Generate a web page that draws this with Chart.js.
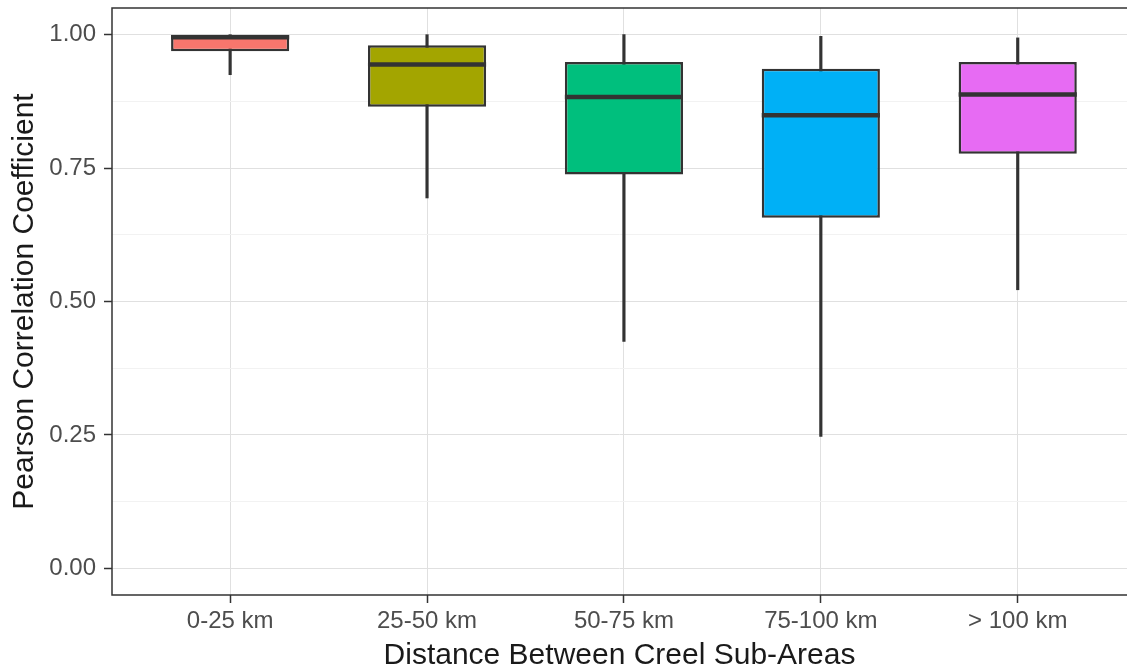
<!DOCTYPE html>
<html>
<head>
<meta charset="utf-8">
<script src="https://cdn.jsdelivr.net/npm/chart.js@4/dist/chart.umd.min.js"></script>
<style>
   html, body { margin: 0; padding: 0; background: #ffffff; }
   #wrap { width: 1127px; height: 669px; }
</style>
</head>
<body>
<div id="wrap"><canvas id="graph" width="1127" height="669"></canvas></div>
<script>
const categories = ["0-25 km", "25-50 km", "50-75 km", "75-100 km", "> 100 km"];
const lowerWhisker = [0.925, 0.694, 0.425, 0.247, 0.522];
const lowerQuartile = [0.969, 0.865, 0.738, 0.657, 0.777];
const medians = [0.995, 0.944, 0.883, 0.849, 0.888];
const upperQuartile = [1.000, 0.980, 0.949, 0.936, 0.949];
const upperWhisker = [1.000, 1.000, 1.000, 0.997, 0.994];
const fillColors = ["#F8766D", "#A3A500", "#00BF7D", "#00B0F6", "#E76BF3"];
const yTicks = [0, 0.125, 0.25, 0.375, 0.5, 0.625, 0.75, 0.875, 1];

const fontFamily = "'Liberation Sans', Arial, sans-serif";
const isMajor = v => Math.abs(v * 4 - Math.round(v * 4)) < 1e-9;

// panel border (left, top, bottom) like ggplot theme_bw
const framePlugin =
{
   id: "frame",
   afterDraw(chart)
   {
      const { ctx, chartArea } = chart;
      ctx.save();
      ctx.strokeStyle = "#333333";
      ctx.lineWidth = 1.5;
      ctx.beginPath();
      ctx.moveTo(chart.width + 2, chartArea.top);
      ctx.lineTo(chartArea.left, chartArea.top);
      ctx.lineTo(chartArea.left, chartArea.bottom);
      ctx.lineTo(chart.width + 2, chartArea.bottom);
      ctx.stroke();
      ctx.restore();
   }
};

const canvasCtx = document.getElementById("graph").getContext("2d");

new Chart(canvasCtx,
{
   type: "bar",
   data:
   {
      datasets:
      [
         {
            type: "line",
            label: "median",
            data: medians.map((m, i) => ({ x: i, y: m })),
            showLine: false,
            pointStyle: "line",
            pointRadius: c =>
            {
               const xs = c.chart.scales.x;
               return Math.abs(xs.getPixelForValue(0.3) - xs.getPixelForValue(0));
            },
            pointHoverRadius: 0,
            pointBorderWidth: 4.5,
            pointBorderColor: "#333333",
            order: 0
         },
         {
            label: "box",
            data: categories.map((c, i) => ({ x: i, y: [lowerQuartile[i], upperQuartile[i]] })),
            backgroundColor: fillColors,
            borderColor: "#333333",
            borderWidth: 2.5,
            borderSkipped: false,
            barPercentage: 0.6,
            categoryPercentage: 1,
            grouped: false,
            order: 1
         },
         {
            label: "whisker",
            data: categories.map((c, i) => ({ x: i, y: [lowerWhisker[i], upperWhisker[i]] })),
            backgroundColor: "#333333",
            barThickness: 2.5,
            grouped: false,
            order: 2
         }
      ]
   },
   options:
   {
      animation: false,
      responsive: false,
      events: [],
      layout:
      {
         padding: { top: 8, right: 0, bottom: 0, left: 0 }
      },
      plugins:
      {
         legend: { display: false },
         tooltip: { enabled: false }
      },
      scales:
      {
         x:
         {
            type: "linear",
            min: -0.6,
            max: 4.555,
            offset: false,
            afterBuildTicks: axis => { axis.ticks = categories.map((c, i) => ({ value: i })); },
            afterFit: axis =>
            {
               axis.height = 74;
               axis.paddingLeft = 0;
               axis.paddingRight = 0;
            },
            border: { display: false },
            grid:
            {
               offset: false,
               color: "#E0E0E0",
               lineWidth: 1,
               tickColor: "#333333",
               tickLength: 8,
               tickWidth: 1.5
            },
            ticks:
            {
               autoSkip: false,
               maxRotation: 0,
               padding: 4,
               color: "#4D4D4D",
               font: { family: fontFamily, size: 24 },
               callback: value => categories[value]
            },
            title:
            {
               display: true,
               text: "Distance Between Creel Sub-Areas",
               color: "#1a1a1a",
               font: { family: fontFamily, size: 30, lineHeight: 0.9 },
               padding: { top: 0, bottom: 0 }
            }
         },
         y:
         {
            type: "linear",
            min: -0.05,
            max: 1.05,
            afterBuildTicks: axis => { axis.ticks = yTicks.map(v => ({ value: v })); },
            afterFit: axis =>
            {
               axis.width = 112;
               axis.paddingTop = 0;
               axis.paddingBottom = 0;
            },
            border: { display: false },
            grid:
            {
               color: c => isMajor(c.tick.value) ? "#E0E0E0" : "#F2F2F2",
               lineWidth: 1,
               tickColor: c => isMajor(c.tick.value) ? "#333333" : "rgba(0,0,0,0)",
               tickLength: 8,
               tickWidth: 1.5
            },
            ticks:
            {
               autoSkip: false,
               padding: 8,
               color: "#4D4D4D",
               font: { family: fontFamily, size: 24 },
               callback: value => isMajor(value) ? value.toFixed(2) : ""
            },
            title:
            {
               display: true,
               text: "Pearson Correlation Coefficient",
               color: "#1a1a1a",
               font: { family: fontFamily, size: 30, lineHeight: 1 },
               padding: { top: 10, bottom: 0 }
            }
         }
      }
   },
   plugins: [framePlugin]
});
</script>
</body>
</html>
